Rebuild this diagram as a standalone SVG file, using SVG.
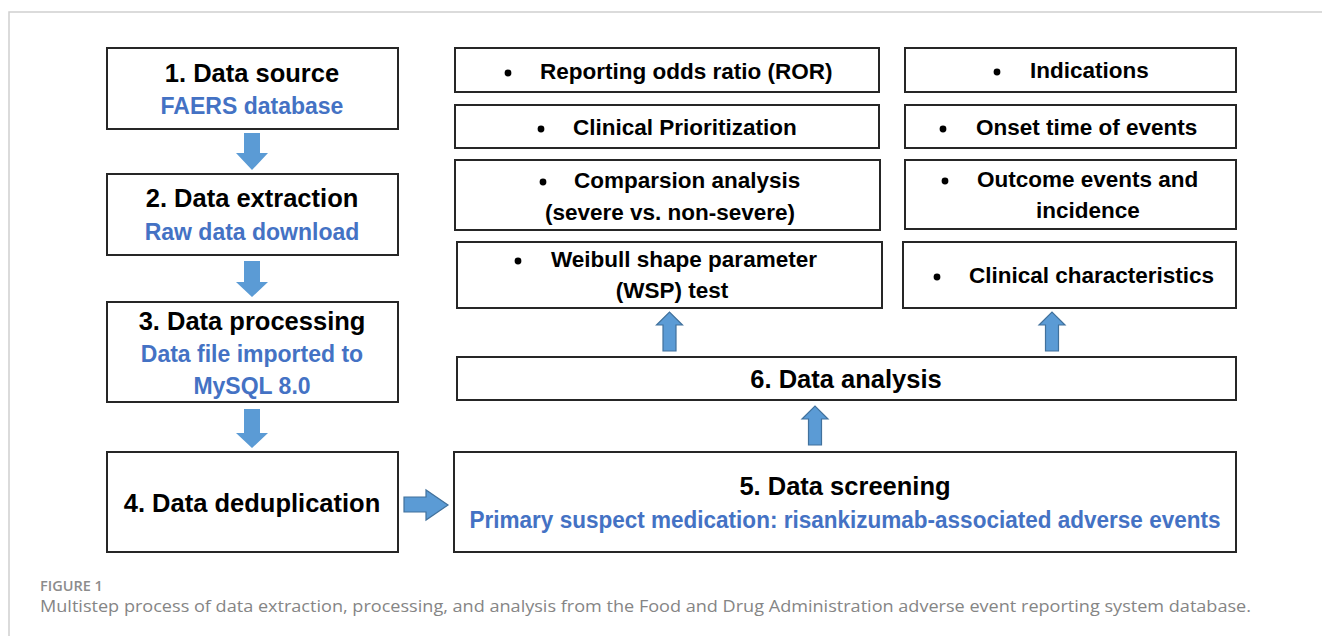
<svg xmlns="http://www.w3.org/2000/svg" width="1322" height="636" viewBox="0 0 1322 636">
  <style>
    .box { fill: #ffffff; stroke: #262626; stroke-width: 2; }
    .title { font-family: "Liberation Sans", Arial, sans-serif; font-weight: bold; font-size: 25.5px; fill: #000000; text-anchor: middle; }
    .sub { font-family: "Liberation Sans", Arial, sans-serif; font-weight: bold; font-size: 23px; fill: #4472C4; text-anchor: middle; }
    .item { font-family: "Liberation Sans", Arial, sans-serif; font-weight: bold; font-size: 22.5px; fill: #000000; }
    .mid { text-anchor: middle; }
    .dot { fill: #000000; }
    .flow { fill: #5B9BD5; }
    .flow-o { fill: #5B9BD5; stroke: #41719C; stroke-width: 1.2; }
    .fig { font-family: "Open Sans", "Liberation Sans", sans-serif; font-weight: 600; font-size: 14.5px; fill: #8c8c8c; }
    .cap { font-family: "Open Sans", "Liberation Sans", sans-serif; font-size: 17px; fill: #858585; }
  </style>

  <!-- page frame -->
  <path d="M9 636 V12 H1322" fill="none" stroke="#d0d0d0" stroke-width="1.5"/>

  <!-- left column: pipeline steps 1-4 -->
  <g id="step1">
    <rect class="box" x="107" y="48" width="291" height="81"/>
    <text class="title" x="252" y="82">1. Data source</text>
    <text class="sub" x="252" y="114" font-size="22">FAERS database</text>
  </g>
  <g id="step2">
    <rect class="box" x="107" y="174" width="291" height="81"/>
    <text class="title" x="252" y="207">2. Data extraction</text>
    <text class="sub" x="252" y="240">Raw data download</text>
  </g>
  <g id="step3">
    <rect class="box" x="107" y="302" width="291" height="100"/>
    <text class="title" x="252" y="330">3. Data processing</text>
    <text class="sub" x="252" y="362">Data file imported to</text>
    <text class="sub" x="252" y="394">MySQL 8.0</text>
  </g>
  <g id="step4">
    <rect class="box" x="107" y="452" width="291" height="100"/>
    <text class="title" x="252" y="512">4. Data deduplication</text>
  </g>

  <!-- screening and analysis -->
  <g id="step5">
    <rect class="box" x="454" y="452" width="782" height="100"/>
    <text class="title" x="845" y="495">5. Data screening</text>
    <text class="sub" x="845" y="528" font-size="22" textLength="751" lengthAdjust="spacingAndGlyphs">Primary suspect medication: risankizumab-associated adverse events</text>
  </g>
  <g id="step6">
    <rect class="box" x="457" y="357" width="779" height="43"/>
    <text class="title" x="846" y="388" font-size="25">6. Data analysis</text>
  </g>

  <!-- analysis methods -->
  <g id="ror">
    <rect class="box" x="455" y="48" width="424" height="44"/>
    <circle class="dot" cx="508" cy="73" r="3.4"/>
    <text class="item" x="540" y="79">Reporting odds ratio (ROR)</text>
  </g>
  <g id="prioritization">
    <rect class="box" x="455" y="105" width="424" height="43"/>
    <circle class="dot" cx="541" cy="129" r="3.4"/>
    <text class="item" x="573" y="135">Clinical Prioritization</text>
  </g>
  <g id="comparison">
    <rect class="box" x="455" y="160" width="425" height="70"/>
    <circle class="dot" cx="543" cy="182" r="3.4"/>
    <text class="item" x="574" y="188">Comparsion analysis</text>
    <text class="item mid" x="670" y="220">(severe vs. non-severe)</text>
  </g>
  <g id="wsp">
    <rect class="box" x="457" y="242" width="425" height="66"/>
    <circle class="dot" cx="518" cy="261" r="3.4"/>
    <text class="item" x="551" y="267">Weibull shape parameter</text>
    <text class="item mid" x="672" y="298">(WSP) test</text>
  </g>

  <!-- descriptive outputs -->
  <g id="indications">
    <rect class="box" x="905" y="48" width="331" height="44"/>
    <circle class="dot" cx="997" cy="72" r="3.4"/>
    <text class="item" x="1030" y="78">Indications</text>
  </g>
  <g id="onset">
    <rect class="box" x="905" y="105" width="331" height="43"/>
    <circle class="dot" cx="943" cy="129" r="3.4"/>
    <text class="item" x="976" y="135">Onset time of events</text>
  </g>
  <g id="outcome">
    <rect class="box" x="905" y="160" width="331" height="69"/>
    <circle class="dot" cx="945" cy="181" r="3.4"/>
    <text class="item" x="977" y="187">Outcome events and</text>
    <text class="item mid" x="1088" y="218">incidence</text>
  </g>
  <g id="characteristics">
    <rect class="box" x="903" y="242" width="333" height="66"/>
    <circle class="dot" cx="937" cy="277" r="3.4"/>
    <text class="item" x="969" y="283">Clinical characteristics</text>
  </g>

  <!-- block arrows between steps -->
  <g id="connectors">
    <path class="flow" d="M244 133 H260 V153 H268 L252 170 L236 153 H244 Z"/>
    <path class="flow" d="M244 261 H260 V282 H268 L252 297 L236 282 H244 Z"/>
    <path class="flow" d="M244 409 H260 V433 H268 L252 448 L236 433 H244 Z"/>
    <path class="flow-o" d="M404 497 H426 V490 L448 505 L426 520 V512 H404 Z"/>
    <path class="flow-o" d="M808.5 445 V419 H802 L815 406 L828 419 H821.5 V445 Z"/>
    <path class="flow-o" d="M663 351 V325 H656.5 L669.5 312 L682.5 325 H676 V351 Z"/>
    <path class="flow-o" d="M1045.5 351 V325 H1039 L1052 312 L1065 325 H1058.5 V351 Z"/>
  </g>

  <!-- caption -->
  <text class="fig" x="40" y="591">FIGURE 1</text>
  <text class="cap" x="40" y="612" textLength="1211" lengthAdjust="spacingAndGlyphs">Multistep process of data extraction, processing, and analysis from the Food and Drug Administration adverse event reporting system database.</text>
</svg>
